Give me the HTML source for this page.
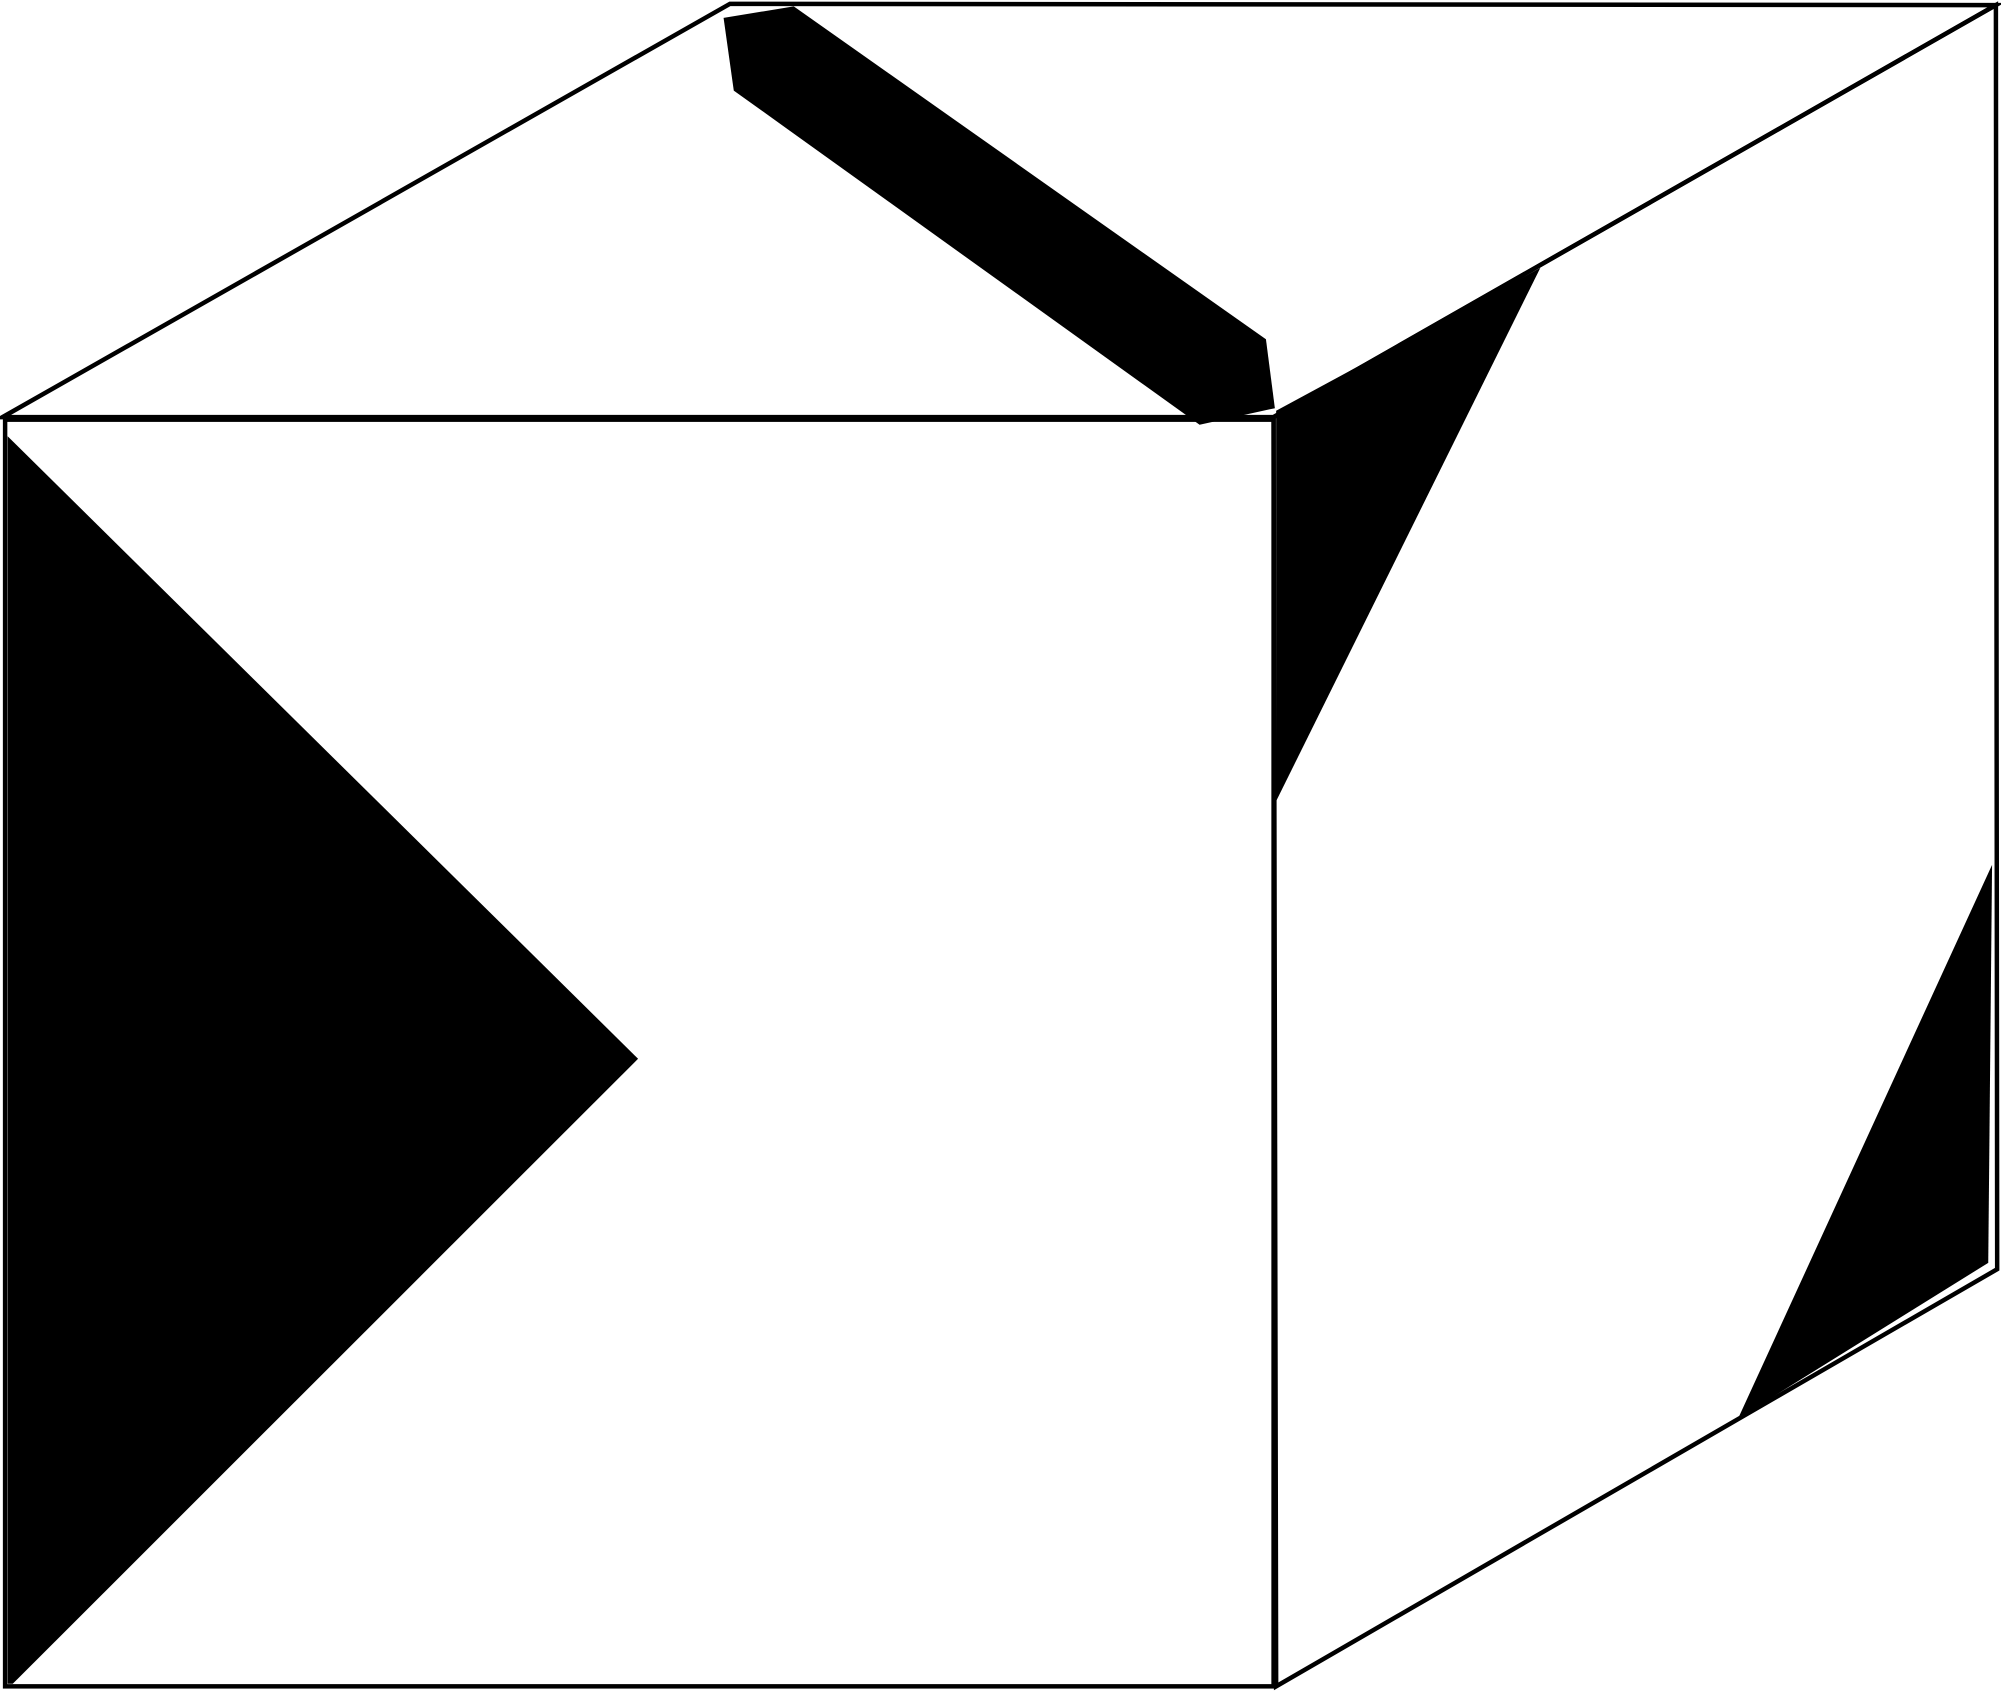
<!DOCTYPE html>
<html><head><meta charset="utf-8"><style>html,body{margin:0;padding:0;background:#fff}svg{display:block}</style></head>
<body>
<svg width="2001" height="1694" viewBox="0 0 1568 1328" preserveAspectRatio="none" xmlns="http://www.w3.org/2000/svg">
<g fill="none" stroke="#000" stroke-width="3.5">
<polygon points="2,327 572,3 1564,4 998,327"/>
<rect x="4" y="329" width="994" height="993"/>
<polygon points="998,327 1564,4 1565,995 1000,1322"/>
</g>
<g fill="#000">
<polygon points="6,342 500,830 10,1320 6,1320"/>
<polygon points="567,14 622,5 992,266 999,320 940,333 575,71"/>
<polygon points="1000,322 1207,210 1000,628"/>
<polygon points="1561,678 1558,990 1362,1112"/>
</g>
</svg>
</body></html>
